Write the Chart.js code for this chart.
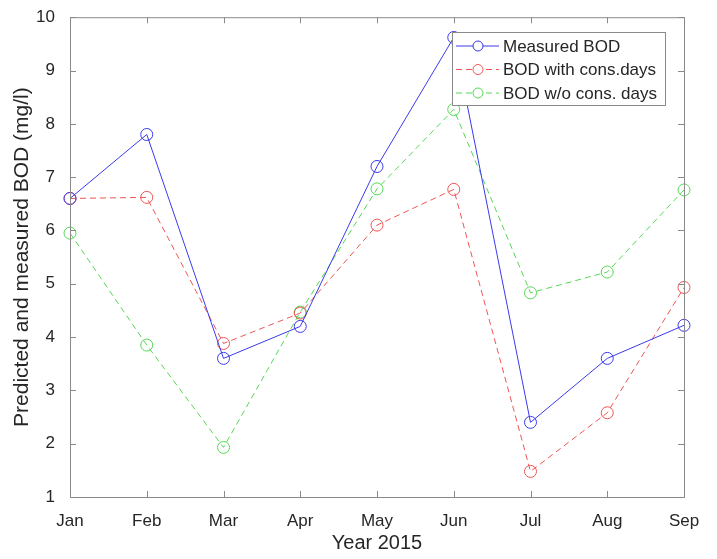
<!DOCTYPE html>
<html>
<head>
<meta charset="utf-8">
<script src="https://cdn.jsdelivr.net/npm/chart.js@4/dist/chart.umd.min.js"></script>
<style>
  body { margin: 0; background: #fff; }
</style>
</head>
<body>
<canvas id="bodChart" width="717" height="559"></canvas>
<script>
// Data
const months = ["Jan", "Feb", "Mar", "Apr", "May", "Jun", "Jul", "Aug", "Sep"];
const measuredBOD = [6.6, 7.8, 3.6, 4.2, 7.2, 9.62, 2.4, 3.6, 4.22];
const bodWithCons = [6.6, 6.62, 3.88, 4.45, 6.1, 6.77, 1.48, 2.58, 4.93];
const bodWithoutCons = [5.95, 3.85, 1.93, 4.47, 6.78, 8.27, 4.83, 5.22, 6.76];
const yTicks = [1, 2, 3, 4, 5, 6, 7, 8, 9, 10];

const FONT = "'Liberation Sans', Arial, sans-serif";
const BLUE = "#3a3aec";
const RED = "#ee5555";
const GREEN = "#55d855";

// MATLAB-like box with inward ticks on all sides
const boxPlugin = {
    id: "boxTicks",
    afterDraw(chart) {
        const { ctx, chartArea: a, scales } = chart;
        const len = 6;
        ctx.save();
        ctx.strokeStyle = "#8a8a8a";
        ctx.lineWidth = 1;
        ctx.strokeRect(a.left + 0.5, a.top + 0.5, a.right - a.left, a.bottom - a.top);
        ctx.beginPath();
        months.forEach((m, i) => {
            const x = Math.round(scales.x.getPixelForValue(i)) + 0.5;
            ctx.moveTo(x, a.bottom); ctx.lineTo(x, a.bottom - len);
            ctx.moveTo(x, a.top); ctx.lineTo(x, a.top + len);
        });
        yTicks.forEach(v => {
            const y = Math.round(scales.y.getPixelForValue(v)) + 0.5;
            ctx.moveTo(a.left, y); ctx.lineTo(a.left + len, y);
            ctx.moveTo(a.right, y); ctx.lineTo(a.right - len, y);
        });
        ctx.stroke();
        ctx.restore();
    }
};

// Legend drawn inside the top-right of the plot
const legendPlugin = {
    id: "insideLegend",
    afterDraw(chart) {
        const ctx = chart.ctx;
        const x0 = 452, y0 = 32, w = 213, h = 73;
        ctx.save();
        ctx.fillStyle = "#fff";
        ctx.fillRect(x0, y0, w, h);
        ctx.strokeStyle = "#8a8a8a";
        ctx.lineWidth = 1;
        ctx.strokeRect(x0 + 0.5, y0 + 0.5, w, h);
        ctx.font = "17px " + FONT;
        ctx.textBaseline = "middle";
        chart.data.datasets.forEach((ds, i) => {
            const y = y0 + 14 + i * 23.5;
            ctx.strokeStyle = ds.borderColor;
            ctx.setLineDash(ds.borderDash || []);
            ctx.beginPath();
            ctx.moveTo(x0 + 4, y); ctx.lineTo(x0 + 47, y);
            ctx.stroke();
            ctx.setLineDash([]);
            ctx.beginPath();
            ctx.arc(x0 + 26, y, 5, 0, Math.PI * 2);
            ctx.fillStyle = "#fff";
            ctx.fill();
            ctx.stroke();
            ctx.fillStyle = "#262626";
            ctx.fillText(ds.label, x0 + 51, y + 1);
        });
        ctx.restore();
    }
};

function series(label, data, color, dash) {
    return {
        label,
        data,
        borderColor: color,
        borderWidth: 1,
        borderDash: dash,
        pointStyle: "circle",
        pointRadius: 6,
        pointBorderWidth: 1,
        pointBackgroundColor: "rgba(0,0,0,0)",
        pointBorderColor: color,
        tension: 0
    };
}

new Chart(document.getElementById("bodChart").getContext("2d"), {
    type: "line",
    data: {
        labels: months,
        datasets: [
            series("Measured BOD", measuredBOD, BLUE, []),
            series("BOD with cons.days", bodWithCons, RED, [6, 4]),
            series("BOD w/o cons. days", bodWithoutCons, GREEN, [6, 4])
        ]
    },
    options: {
        responsive: false,
        animation: false,
        devicePixelRatio: 1,
        layout: { padding: { top: 12, right: 33, left: 0, bottom: 0 } },
        plugins: {
            legend: { display: false },
            tooltip: { enabled: false }
        },
        scales: {
            x: {
                offset: false,
                grid: { display: false },
                border: { display: false },
                ticks: { color: "#262626", font: { family: FONT, size: 17 }, padding: 6, maxRotation: 0 },
                title: { display: true, text: "Year 2015", color: "#262626", font: { family: FONT, size: 20 }, padding: { top: 0, bottom: 4 } },
                afterFit: s => { s.height = 62; }
            },
            y: {
                min: 1,
                max: 10,
                grid: { display: false },
                border: { display: false },
                ticks: { stepSize: 1, color: "#262626", font: { family: FONT, size: 17 }, padding: 7 },
                title: { display: true, text: "Predicted and measured BOD (mg/l)", color: "#262626", font: { family: FONT, size: 21 }, padding: { top: 10, bottom: 0 } },
                afterFit: s => { s.width = 70; }
            }
        }
    },
    plugins: [boxPlugin, legendPlugin]
});
</script>
</body>
</html>
